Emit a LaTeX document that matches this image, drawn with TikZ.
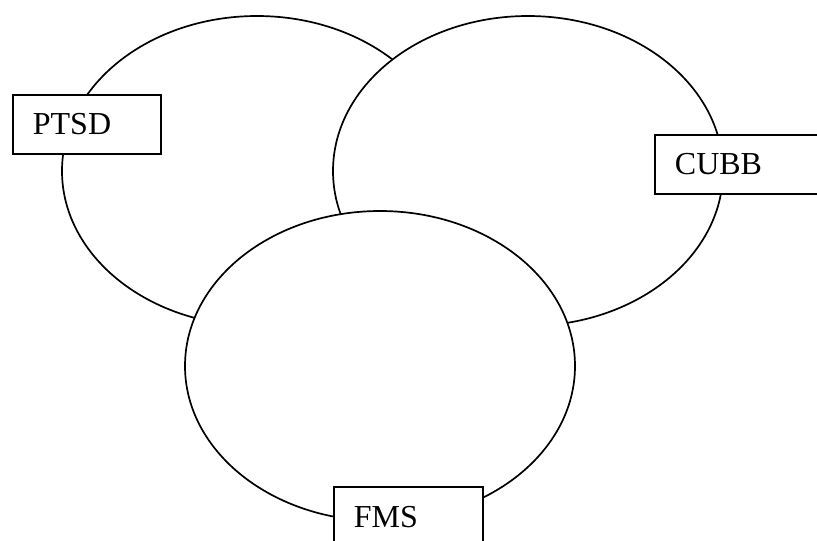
\documentclass[tikz,border=0pt]{standalone}
\usepackage{fontspec}
\setmainfont{Liberation Serif}
\usetikzlibrary{shapes.geometric}
\begin{document}
\begin{tikzpicture}[x=1pt,y=-1pt,
  venn/.style={ellipse, draw, fill=white, line width=1.7pt,
    minimum width=390pt, minimum height=310pt, inner sep=0pt},
  labelbox/.style={rectangle, draw, fill=white, line width=1.8pt,
    anchor=north west, minimum height=59pt, inner xsep=20pt, inner ysep=0pt,
    align=left, font=\fontsize{32}{38}\selectfont}]
\clip (0,0) rectangle (817,541);
\node[venn] (ptsdset) at (257,171) {};
\node[venn] (cubbset) at (528,171) {};
\node[venn] (fmsset) at (380,366) {};
\node[labelbox, text width=108pt] (ptsd) at (12,94) {PTSD};
\node[labelbox, text width=126pt] (cubb) at (654,134) {CUBB};
\node[labelbox, text width=109pt, minimum height=60pt] (fms) at (333,486) {FMS};
\end{tikzpicture}
\end{document}
